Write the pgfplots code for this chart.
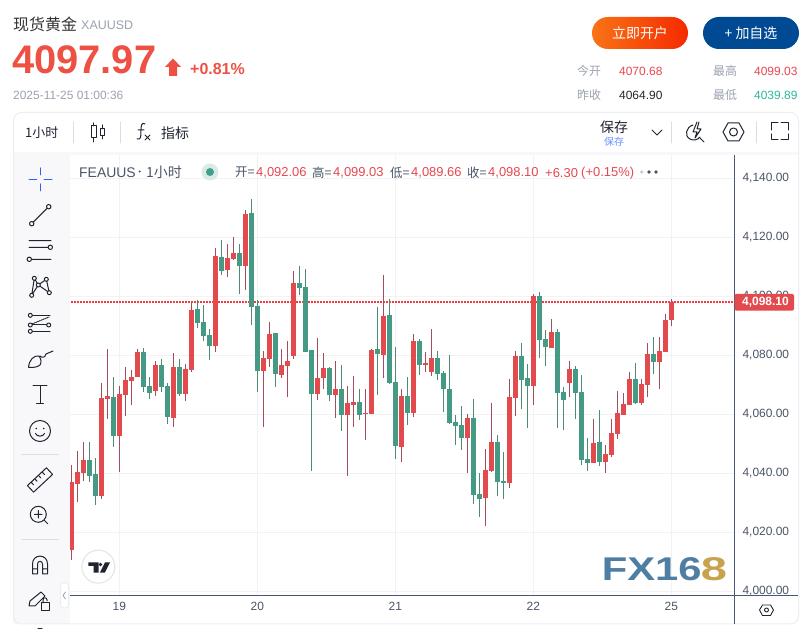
\documentclass[border=0pt]{standalone}
\usepackage{pgfplots}
\pgfplotsset{compat=1.18}
\usepackage{pgfplotstable}
\usepackage{fontspec}
\setmainfont{Liberation Sans}
\newfontfamily\cjk{Noto Sans CJK SC}
\definecolor{upb}{HTML}{E34A4E}
\definecolor{dnb}{HTML}{449A85}
\definecolor{upw}{HTML}{A64D5C}
\definecolor{dnw}{HTML}{4F8A72}
\definecolor{headred}{HTML}{EE5043}
\definecolor{lred}{HTML}{E8474F}
\definecolor{dotred}{HTML}{F03A3F}
\definecolor{gtxt}{HTML}{4A5568}
\definecolor{lgray}{HTML}{9CA3AF}
\definecolor{card}{HTML}{ECEEF3}
\definecolor{pane}{HTML}{F8F8FA}
\definecolor{gridc}{HTML}{F1F2F5}
\definecolor{axisc}{HTML}{4A5578}
\definecolor{icon}{HTML}{1F2430}
\definecolor{tvblue}{HTML}{2962FF}
\definecolor{logob}{HTML}{4F7EA3}
\definecolor{logog}{HTML}{C9A24E}
\definecolor{btnl}{HTML}{F97316}
\definecolor{btnr}{HTML}{F52A00}
\definecolor{btnb}{HTML}{004A94}
\definecolor{teal}{HTML}{2DB89A}
\newcommand{\fs}[1]{\fontsize{#1}{#1}\selectfont}
% i open high low close (1 hour candles)
\pgfplotstableread{
i open high low close
0 4014.13 4042.83 4010.63 4037.07
1 4036.39 4047.58 4030.29 4040.46
2 4040.12 4050.63 4037.41 4044.52
5 4032.32 4070.63 4031.30 4065.54
6 4065.20 4082.15 4058.42 4066.22
8 4052.66 4069.61 4040.46 4066.90
9 4066.56 4076.05 4059.44 4071.64
10 4071.30 4075.03 4063.17 4072.66
11 4072.66 4082.15 4072.66 4081.13
14 4067.91 4078.08 4066.22 4076.73
17 4058.76 4080.80 4055.71 4076.05
19 4066.90 4077.07 4064.52 4075.37
20 4075.03 4097.74 4074.36 4095.37
24 4083.17 4116.39 4081.13 4113.68
26 4108.93 4117.74 4106.56 4113.00
27 4112.66 4120.12 4112.32 4114.69
29 4110.29 4129.27 4102.15 4127.91
32 4074.69 4081.47 4055.71 4079.10
33 4078.76 4091.30 4076.05 4087.24
35 4073.34 4082.15 4072.32 4076.73
36 4076.39 4084.86 4065.88 4078.08
37 4079.78 4108.59 4078.76 4104.52
41 4066.90 4085.88 4064.86 4072.32
42 4072.32 4080.79 4068.59 4075.71
44 4066.56 4078.08 4058.76 4068.59
46 4059.77 4069.61 4039.10 4063.84
47 4063.16 4073.00 4055.71 4064.18
49 4060.11 4068.59 4051.30 4060.45
50 4060.11 4082.15 4060.11 4081.81
52 4080.11 4107.23 4072.32 4093.34
55 4048.93 4068.59 4043.84 4066.22
57 4060.45 4087.23 4059.10 4084.86
59 4076.73 4081.13 4074.35 4077.40
60 4074.35 4088.93 4073.00 4079.10
66 4051.98 4060.11 4040.11 4058.76
69 4031.64 4048.25 4022.15 4041.13
70 4040.79 4063.84 4040.45 4050.62
73 4036.72 4071.98 4035.03 4065.88
74 4065.54 4081.47 4059.44 4079.78
77 4069.61 4100.79 4063.16 4100.12
80 4082.49 4092.32 4082.49 4087.91
83 4070.62 4078.08 4065.88 4075.37
87 4043.50 4058.42 4043.50 4050.28
89 4043.84 4049.60 4040.11 4046.55
90 4046.21 4058.42 4045.54 4053.67
91 4053.33 4067.91 4051.64 4060.45
92 4059.77 4067.23 4059.77 4063.50
93 4063.16 4074.35 4063.16 4071.98
95 4063.84 4071.98 4063.16 4070.28
96 4069.94 4084.18 4065.88 4080.45
98 4077.74 4086.22 4068.59 4081.47
99 4081.13 4094.01 4081.13 4091.98
100 4091.98 4099.10 4089.95 4098.08
}\upcandles
\pgfplotstableread{
i open high low close
3 4044.52 4050.63 4037.07 4039.10
4 4039.78 4045.20 4029.27 4032.32
7 4065.88 4072.66 4048.93 4052.66
12 4081.13 4082.49 4067.58 4069.27
13 4069.61 4072.66 4065.20 4067.24
15 4076.73 4078.76 4067.58 4069.27
16 4069.61 4070.63 4056.73 4059.10
18 4076.05 4078.76 4066.22 4066.90
21 4095.71 4098.76 4089.27 4090.96
22 4091.30 4097.07 4084.86 4086.56
23 4086.90 4088.93 4078.42 4083.17
25 4113.34 4119.10 4107.24 4108.59
28 4114.69 4117.74 4100.80 4110.29
30 4128.25 4133.00 4090.29 4096.39
31 4096.73 4098.76 4067.58 4074.69
34 4087.58 4087.58 4069.27 4073.68
38 4104.52 4110.29 4100.45 4102.83
39 4103.17 4109.27 4081.13 4081.13
40 4081.81 4081.81 4040.79 4066.90
43 4075.71 4076.05 4064.52 4066.56
45 4068.59 4076.73 4054.35 4059.77
48 4064.18 4068.59 4058.08 4059.77
51 4082.15 4096.39 4066.56 4080.45
53 4093.67 4099.10 4070.28 4070.62
54 4070.96 4082.83 4044.86 4049.27
56 4066.22 4072.66 4056.38 4060.45
58 4084.86 4085.54 4073.33 4076.73
61 4079.10 4081.47 4071.64 4073.67
62 4074.01 4074.69 4060.79 4068.59
63 4068.59 4080.11 4056.72 4057.06
64 4057.40 4059.77 4049.61 4056.05
65 4056.38 4062.83 4047.91 4051.98
67 4058.76 4065.20 4029.60 4032.65
68 4032.99 4040.11 4025.20 4031.30
71 4050.62 4052.99 4032.32 4037.06
72 4037.40 4047.23 4031.30 4036.72
75 4079.78 4084.18 4061.81 4071.64
76 4072.32 4077.06 4055.37 4069.61
78 4100.12 4101.47 4079.10 4085.20
79 4085.54 4088.59 4076.39 4082.83
81 4087.91 4088.93 4055.37 4067.23
82 4067.57 4069.27 4054.69 4064.86
84 4075.37 4076.39 4058.42 4067.23
85 4067.57 4073.34 4042.82 4044.52
86 4044.86 4051.98 4040.79 4043.50
88 4050.62 4061.47 4042.49 4043.84
94 4071.98 4077.40 4063.50 4063.84
97 4080.45 4086.22 4073.67 4077.74
}\downcandles
\begin{document}
\begin{tikzpicture}
\path[use as bounding box,fill=white] (0,0) rectangle (812bp,629bp);
\begin{scope}[x=1bp,y=-1bp,yshift=629bp,line cap=round,line join=round]
% card and panes
\fill[pane] (13,152) rectangle (798,155);
\fill[pane] (13,155) rectangle (70,624);
\draw[card,line width=1bp,rounded corners=8bp] (13.5,624) -- (13.5,112.5) -- (798.5,112.5) -- (798.5,624) -- cycle;
% heading
\node[anchor=west,inner sep=0,font=\cjk\fs{16},text=black!80] at (13,24) {现货黄金};
\node[anchor=west,inner sep=0,font=\fs{12.5},text=lgray] at (81,25) {XAUUSD};
\node[anchor=west,inner sep=0,font=\bfseries\fs{40},text=headred] at (12,60) {4097.97};
\fill[headred] (173,58.5) -- (181,67) -- (177,67) -- (177,76) -- (169,76) -- (169,67) -- (165,67) -- cycle;
\node[anchor=west,inner sep=0,font=\bfseries\fs{16},text=headred] at (190,69) {+0.81\%};
\node[anchor=west,inner sep=0,font=\fs{12},text=lgray] at (13,95) {2025-11-25 01:00:36};
% buttons
\shade[left color=btnl,right color=btnr,rounded corners=16bp] (592,17) rectangle (688,49);
\node[font=\cjk\fs{14},text=white,inner sep=0] at (640,33) {立即开户};
\fill[btnb,rounded corners=16bp] (703,17) rectangle (799,49);
\node[font=\cjk\fs{14},text=white,inner sep=0] at (751,33) {+ 加自选};
% stats
\foreach \x/\y/\t in {577/71/今开,577/95/昨收,713/71/最高,713/95/最低}
 \node[anchor=west,inner sep=0,font=\cjk\fs{12},text=lgray] at (\x,\y) {\t};
\node[anchor=west,inner sep=0,font=\fs{12},text=lred] at (619,71) {4070.68};
\node[anchor=west,inner sep=0,font=\fs{12},text=black!85] at (619,95) {4064.90};
\node[anchor=west,inner sep=0,font=\fs{12},text=lred] at (754,71) {4099.03};
\node[anchor=west,inner sep=0,font=\fs{12},text=teal] at (754,95) {4039.89};
% toolbar
\node[anchor=west,inner sep=0,font=\cjk\fs{13},text=icon] at (25,133) {1小时};
\node[anchor=west,inner sep=0,font=\cjk\fs{14},text=icon] at (161,133) {指标};
\node[inner sep=0,font=\cjk\fs{14},text=icon] at (614,127) {保存};
\node[inner sep=0,font=\cjk\fs{10},text=tvblue!70] at (614,141.5) {保存};
\foreach \x in {73,120,671,756} \draw[card!85!gray,line width=1bp] (\x,122) -- (\x,143);
\begin{scope}[icon,line width=1bp]
\draw (91.5,126) rectangle (96,138); \draw (93.7,123) -- (93.7,126) (93.7,138) -- (93.7,142);
\draw (100,129) rectangle (104,136); \draw (102,125) -- (102,129) (102,136) -- (102,139);
\draw (145,124) .. controls (142,122) and (141,125) .. (141,130) .. controls (141,137) and (141,140) .. (137,139);
\draw (138,130) -- (144,130) (145,135) -- (150,140) (150,135) -- (145,140);
\draw (652,130) -- (657,135) -- (662,130);
\draw (693,125) .. controls (686,127) and (684,136) .. (690,139) .. controls (693,141) and (698,140) .. (700,137);
\draw (700,138) -- (704,142);
\draw (697,122) -- (693,132) -- (697,132) -- (695,138) -- (701,129) -- (697,129) -- (699,122);
\draw (723,132) -- (728,123) -- (739,123) -- (744,132) -- (739,141) -- (728,141) -- cycle;
\draw (733.5,132) circle (4);
\draw (771,130) -- (771,123) -- (778,123) (781,123) -- (788,123) -- (788,130)
      (788,134) -- (788,140) -- (781,140) (778,140) -- (771,140) -- (771,134);
\end{scope}
% left drawing tools
\draw[tvblue,line width=1bp] (40.3,168) -- (40.3,175) (40.3,184) -- (40.3,191) (29,179.3) -- (36.7,179.3) (44,179.3) -- (52,179.3);
\begin{scope}[icon,line width=1bp]
\draw (31.7,223.7) circle (2.2) (48.7,206.7) circle (2.2) (33.2,222.2) -- (47.2,208.2);
\draw (29,240.7) -- (51,240.7) (29,247.3) -- (48,247.3) (31.5,259.3) -- (51,259.3) (50.3,247.3) circle (2.2) (29.3,259.3) circle (2.2);
\draw (31.7,295.3) -- (34.3,278.3) -- (38.3,285) -- (31.7,295.3) (38.3,285) -- (46.3,279.3) -- (49.3,292.7) -- (38.3,285);
\foreach \p in {(34.3,278.3),(31.7,295.3),(38.3,285),(46.3,279.3),(49.3,292.7)} \draw[fill=pane] \p circle (2);
\draw (32,315.3) -- (50,315.3) (32,325) -- (46.5,325) (32,331.3) -- (50,331.3);
\draw[densely dotted] (32,324) -- (49,317);
\foreach \p in {(30.3,315.3),(30.3,325),(30.3,331.3),(48.7,325)} \draw[fill=pane] \p circle (2);
\draw (28.5,367.5) .. controls (29,360) and (34,355) .. (39,356) .. controls (41,359) and (42,362) .. (40,365) .. controls (37,367.5) and (33,367.5) .. (28.5,367.5);
\draw (40,356) .. controls (42,358) and (45,358) .. (46,354) -- (53,351);
\draw (33,386) -- (47,386) (40,386) -- (40,403.3) (36.5,403.3) -- (43.5,403.3);
\draw (40,431) circle (10.5);
\fill (36.3,428.5) circle (.9) (43.7,428.5) circle (.9);
\draw (35.5,433.5) .. controls (37,437) and (43,437) .. (44.5,433.5);
\draw[rotate around={43:(40,480)}] (27,475.5) rectangle (53,484.5);
\draw[rotate around={43:(40,480)}] (32,475.5) -- (32,479) (37,475.5) -- (37,479) (42,475.5) -- (42,479) (47,475.5) -- (47,479);
\draw (38.3,514.3) circle (8) (44,520) -- (47.8,523.8) (34.5,514.3) -- (42,514.3) (38.3,510.5) -- (38.3,518);
\draw (32.5,574) -- (32.5,564) .. controls (32.5,553.5) and (47.5,553.5) .. (47.5,564) -- (47.5,574) -- (42.5,574) -- (42.5,564) .. controls (42.5,560.5) and (37.5,560.5) .. (37.5,564) -- (37.5,574) -- cycle (32.5,569) -- (37.5,569) (42.5,569) -- (47.5,569);
\draw (29,606) -- (30,601) -- (41,592) -- (45,596) -- (35,606) -- cycle;
\draw[fill=pane] (41,603) rectangle (49,611);
\draw (43,603) -- (43,600) .. controls (43,597) and (47,597) .. (47,600) -- (47,601);
\draw (38,628.5) -- (42,628.5);
\end{scope}
\draw[card!85!gray,line width=1bp] (22,455) -- (58,455) (22,540) -- (58,540);
\fill[white,draw=card,line width=1bp,rounded corners=3bp] (60.5,583) rectangle (68.5,608);
\draw[lgray,line width=.8bp] (65.5,592) -- (63,595.5) -- (65.5,599);
% axis lines running on past the plot, to the card's edges
\draw[axisc,line width=1bp,line cap=butt] (734,596) -- (798,596) (734,596) -- (734,624);
\end{scope}
% chart
\begin{axis}[
  at={(70bp,33bp)},anchor=south west,scale only axis,
  width=664bp,height=441bp,
  xmin=-0.22,xmax=110.44,ymin=3998.41,ymax=4147.9,
  axis x line*=bottom,axis y line*=right,
  axis line style={axisc,line width=1bp,-},
  xtick={8,31,54,77,100},xticklabels={19,20,21,22,25},
  ytick={4000,4020,4040,4060,4080,4100,4120,4140},
  tick style={draw=none},
  grid=major,major grid style={gridc,line width=1bp},
  tick label style={font=\fs{12},text=gtxt},
  xticklabel style={yshift=-3bp},
  yticklabel style={anchor=west,xshift=5bp,yshift=.6bp,
    /pgf/number format/.cd,fixed,fixed zerofill,precision=2,1000 sep={,},assume math mode=true},
  clip=true]
\addplot[draw=dotred,mark=none,line width=1.2bp,dash pattern=on 1.5bp off 1.5bp,forget plot] coordinates {(-1,4098.1) (111,4098.1)};
\addplot[draw=none,mark=none,forget plot,error bars/.cd,y dir=plus,y explicit,error mark=none,
  error bar style={upw,line width=1bp,line cap=butt}]
  table[x=i,y=low,y error expr=\thisrow{high}-\thisrow{low}] {\upcandles};
\addplot[draw=none,mark=none,forget plot,error bars/.cd,y dir=plus,y explicit,error mark=none,
  error bar style={dnw,line width=1bp,line cap=butt}]
  table[x=i,y=low,y error expr=\thisrow{high}-\thisrow{low}] {\downcandles};
\addplot[draw=none,mark=none,forget plot,error bars/.cd,y dir=plus,y explicit,error mark=none,
  error bar style={upb,line width=5bp,line cap=butt}]
  table[x=i,y=open,y error expr=\thisrow{close}-\thisrow{open}] {\upcandles};
\addplot[draw=none,mark=none,forget plot,error bars/.cd,y dir=plus,y explicit,error mark=none,
  error bar style={dnb,line width=5bp,line cap=butt}]
  table[x=i,y=close,y error expr=\thisrow{open}-\thisrow{close}] {\downcandles};
\end{axis}
\begin{scope}[x=1bp,y=-1bp,yshift=629bp,line cap=round,line join=round]
% price label
\fill[upb,rounded corners=1.5bp] (734.5,294) rectangle (794,310.7);
\node[inner sep=0,font=\bfseries\fs{12},text=white] at (765.5,302.5) {4,098.10};
% legend row
\node[anchor=west,inner sep=0,font=\fs{14},text=gtxt] at (79,172.5) {FEAUUS};
\fill[gtxt] (139.7,171.5) circle (1.1);
\node[anchor=west,inner sep=0,font=\cjk\fs{14},text=gtxt] at (146,172.5) {1小时};
\fill[dnb!20] (210,172) circle (8.5);
\fill[dnb!80!teal] (210,172) circle (4);
\foreach \x/\t in {235/开,312/高,390/低,467/收}
  \node[anchor=west,inner sep=0,font=\cjk\fs{12.5},text=gtxt] at (\x,172.5) {\t=};
\foreach \x/\t in {256/{4,092.06},333/{4,099.03},411/{4,089.66},488/{4,098.10},545/{+6.30},581/{(+0.15\%)}}
  \node[anchor=west,inner sep=0,font=\fs{13},text=lred] at (\x,173) {\t};
\fill[black!20] (641.7,172) circle (1.9);
\fill[gtxt] (649,172) circle (1.9) (656,172) circle (1.9);
% settings hexagon at bottom right
\draw[icon,line width=.9bp] (759.5,610) -- (762.5,605) -- (770.5,605) -- (773.5,610) -- (770.5,615.5) -- (762.5,615.5) -- cycle;
\draw[icon,line width=.9bp] (766.5,610) circle (2);
% TradingView badge
\draw[card!90!gray,fill=white,line width=1bp] (98.3,566.7) circle (16.5);
\fill[icon] (88.3,562.3) rectangle (98.5,566) (93.5,566) rectangle (98.5,572.7);
\fill[icon] (99.8,572.7) -- (105,562.3) -- (110,562.3) -- (104.8,572.7) -- cycle;
\fill[icon] (100.5,564.5) circle (1.8);
% logo
\node[anchor=west,inner sep=0,font=\bfseries\fs{33},text=logob,xscale=1.27] at (601.5,569.5) {FX16};
\node[anchor=west,inner sep=0,font=\bfseries\fs{33},text=logog,xscale=1.43] at (700.5,569.5) {8};
\end{scope}
\end{tikzpicture}
\end{document}
